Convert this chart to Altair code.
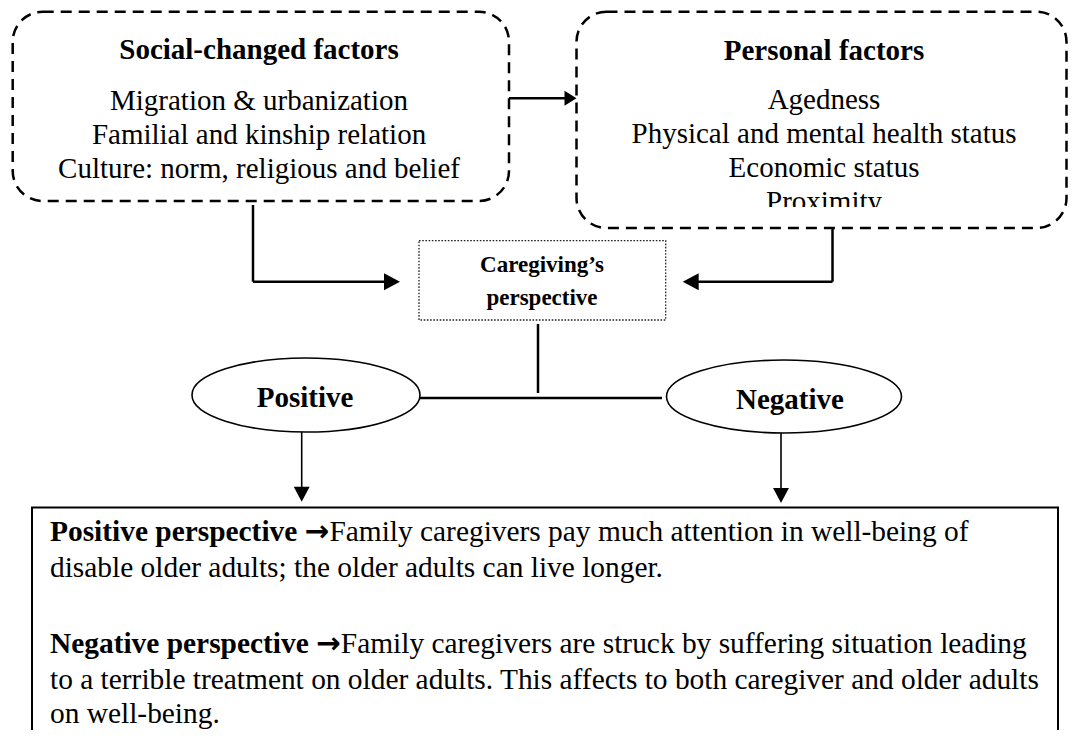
import altair as alt
import pandas as pd

FONT = "Liberation Serif"

# ---------------- text content ----------------
left_title = ["Social-changed factors"]
left_items = ["Migration & urbanization",
              "Familial and kinship relation",
              "Culture: norm, religious and belief"]
right_title = ["Personal factors"]
right_items = ["Agedness",
               "Physical and mental health status",
               "Economic status",
               "Proximity"]
center_lines = ["Caregiving’s", "perspective"]
branch_labels = ["Positive", "Negative"]
lead_words = ["Positive perspective", "Negative perspective"]
lead_arrows = ["→", "→"]
lead_rest = ["Family caregivers pay much attention in well-being of",
             "Family caregivers are struck by suffering situation leading"]
plain_lines = ["disable older adults; the older adults can live longer.",
               "to a terrible treatment on older adults. This affects to both caregiver and older adults",
               "on well-being."]

# ---------------- layout (page pixels) ----------------
dash_box_x1 = [12.7, 576.5]
dash_box_x2 = [509.0, 1066.5]
dash_box_y1 = [11.7, 11.7]
dash_box_y2 = [201.0, 228.0]

left_x = 259
left_title_y = [59]
left_items_y = [110, 144, 178]
right_x = 824
right_title_y = [60]
right_items_y = [109, 143, 177, 211]

mask_x1, mask_x2, mask_y1, mask_y2 = [740], [910], [207], [225]

center_box = dict(x=[419], x2=[665.7], y=[240.7], y2=[320])
center_x = 542
center_y = [272, 305]

ell_x = [306, 784]
ell_y = [395, 396.5]
ell_rx = [114, 117.5]
ell_ry = [37, 36.5]
label_x = [305, 790]
label_y = [407, 409]

thick_x1 = [509, 253, 253, 832.5, 832.5, 538, 420]
thick_y1 = [98.3, 205, 281.7, 228, 281.7, 324, 398]
thick_x2 = [570, 253, 392, 832.5, 690, 538, 662]
thick_y2 = [98.3, 281.7, 281.7, 281.7, 281.7, 393, 398]

thin_x1 = [301.7, 781]
thin_y1 = [432, 433]
thin_x2 = [301.7, 781]
thin_y2 = [495, 496]

head_small_right = dict(x=[576.5], y=[98.3])
head_right = dict(x=[400], y=[281.7])
head_left = dict(x=[682.7], y=[281.7])
head_down = dict(x=[301.7, 781], y=[501.7, 503])

bottom_box = dict(x=[32], x2=[1058], y=[507.5], y2=[760])
body_x = 50
body_y = [541, 577, 653, 689, 723]
arrow_x = [304.8, 316.2]
rest_x = [329.4, 340.8]
BODY_SIZE = 29.4

# ---------------- scales ----------------
XS = alt.Scale(domain=[8, 1068], nice=False, zero=False)
YS = alt.Scale(domain=[8, 730], reverse=True, nice=False, zero=False)


def X(f="x"):
    return alt.X(f"{f}:Q", scale=XS, axis=None)


def Y(f="y"):
    return alt.Y(f"{f}:Q", scale=YS, axis=None)


def rect_layer(df, **mk):
    return alt.Chart(df).mark_rect(**mk).encode(
        x=X("x"), x2=alt.X2("x2:Q"), y=Y("y"), y2=alt.Y2("y2:Q"))


def text_layer(df, **mk):
    base = dict(font=FONT, color="black", baseline="alphabetic")
    base.update(mk)
    return alt.Chart(df).mark_text(**base).encode(x=X("x"), y=Y("y"), text="t:N")


def rule_layer(df, width):
    return alt.Chart(df).mark_rule(color="black", strokeWidth=width).encode(
        x=X("x"), y=Y("y"), x2=alt.X2("x2:Q"), y2=alt.Y2("y2:Q"))


def head_layer(d, path, scale):
    return alt.Chart(pd.DataFrame(d)).mark_point(
        shape=path, filled=True, color="black", opacity=1, strokeWidth=0,
        size=(2 * scale) ** 2).encode(x=X("x"), y=Y("y"))


def ellipse_path(k):
    c = 0.5523
    return (f"M -1 0 C -1 {-c*k:.4f} {-c} {-k:.4f} 0 {-k:.4f} "
            f"C {c} {-k:.4f} 1 {-c*k:.4f} 1 0 "
            f"C 1 {c*k:.4f} {c} {k:.4f} 0 {k:.4f} "
            f"C {-c} {k:.4f} -1 {c*k:.4f} -1 0 Z")


layers = []

# dashed rounded boxes
layers.append(rect_layer(
    pd.DataFrame({"x": dash_box_x1, "x2": dash_box_x2, "y": dash_box_y1, "y2": dash_box_y2}),
    fill="white", fillOpacity=0, stroke="black", strokeWidth=2.5,
    strokeDash=[11, 7], cornerRadius=30))

# top box texts
layers.append(text_layer(pd.DataFrame({"x": [left_x], "y": left_title_y, "t": left_title}),
                         fontSize=29, fontWeight="bold", align="center"))
layers.append(text_layer(pd.DataFrame({"x": [left_x] * 3, "y": left_items_y, "t": left_items}),
                         fontSize=29, align="center"))
layers.append(text_layer(pd.DataFrame({"x": [right_x], "y": right_title_y, "t": right_title}),
                         fontSize=29, fontWeight="bold", align="center"))
layers.append(text_layer(pd.DataFrame({"x": [right_x] * 4, "y": right_items_y, "t": right_items}),
                         fontSize=29, align="center"))
# clipped last line of the personal-factors text box
layers.append(rect_layer(
    pd.DataFrame({"x": mask_x1, "x2": mask_x2, "y": mask_y1, "y2": mask_y2}),
    fill="white", strokeWidth=0))

# dotted centre box
layers.append(rect_layer(pd.DataFrame(center_box), fill="white", fillOpacity=0,
                         stroke="#222222", strokeWidth=1.3, strokeDash=[1.6, 1.6]))
layers.append(text_layer(pd.DataFrame({"x": [center_x] * 2, "y": center_y, "t": center_lines}),
                         fontSize=23, fontWeight="bold", align="center"))

# connectors
layers.append(rule_layer(pd.DataFrame({"x": thick_x1, "y": thick_y1, "x2": thick_x2, "y2": thick_y2}), 2.5))
layers.append(rule_layer(pd.DataFrame({"x": thin_x1, "y": thin_y1, "x2": thin_x2, "y2": thin_y2}), 1.6))

# arrow heads
layers.append(head_layer(head_small_right, "M 0 0 L -1 -0.62 L -1 0.62 Z", 12))
layers.append(head_layer(head_right, "M 0 0 L -1 -0.53 L -1 0.53 Z", 16))
layers.append(head_layer(head_left, "M 0 0 L 1 -0.53 L 1 0.53 Z", 16))
layers.append(head_layer(head_down, "M 0 0 L -0.53 -1 L 0.53 -1 Z", 15))

# ellipses
for i in range(2):
    layers.append(alt.Chart(pd.DataFrame({"x": [ell_x[i]], "y": [ell_y[i]]})).mark_point(
        shape=ellipse_path(ell_ry[i] / ell_rx[i]), filled=False, color="black",
        fill="white", fillOpacity=1, opacity=1, strokeWidth=1.6,
        size=(2 * ell_rx[i]) ** 2).encode(x=X("x"), y=Y("y")))
layers.append(text_layer(pd.DataFrame({"x": label_x, "y": label_y, "t": branch_labels}),
                         fontSize=29, fontWeight="bold", align="center"))

# bottom explanation box
layers.append(rect_layer(pd.DataFrame(bottom_box), fill="white", fillOpacity=0,
                         stroke="black", strokeWidth=2))
lead_y = [body_y[0], body_y[2]]
layers.append(text_layer(pd.DataFrame({"x": [body_x] * 2, "y": lead_y, "t": lead_words}),
                         fontSize=BODY_SIZE, fontWeight="bold", align="left"))
layers.append(text_layer(pd.DataFrame({"x": arrow_x, "y": lead_y, "t": lead_arrows}),
                         font="DejaVu Sans", fontSize=BODY_SIZE, fontWeight="bold", align="left"))
layers.append(text_layer(pd.DataFrame({"x": rest_x, "y": lead_y, "t": lead_rest}),
                         fontSize=BODY_SIZE, align="left"))
layers.append(text_layer(pd.DataFrame({"x": [body_x] * 3, "y": [body_y[1], body_y[3], body_y[4]],
                                       "t": plain_lines}),
                         fontSize=BODY_SIZE, align="left"))

chart = alt.layer(*layers).properties(
    width=1060, height=722,
    autosize=alt.AutoSizeParams(type="none"),
    padding=0, background="white",
).configure_view(stroke=None)

chart.save("out.html", embed_options={"renderer": "svg", "actions": False})
